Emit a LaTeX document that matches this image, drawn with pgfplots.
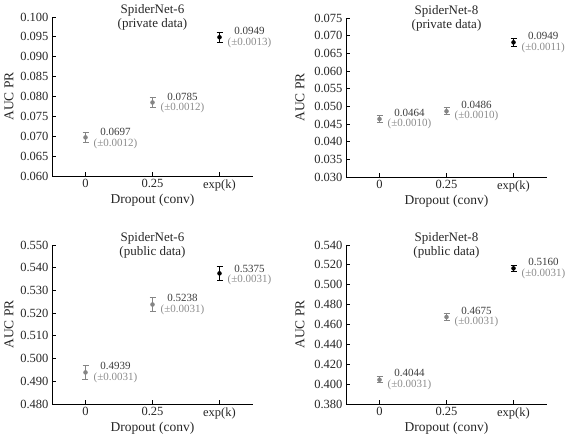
\documentclass[border=0pt]{standalone}
\usepackage{fontspec}
\setmainfont{Liberation Serif}
\usepackage{pgfplots}
\pgfplotsset{compat=1.18}
\definecolor{ptgray}{HTML}{858585}
\definecolor{valc}{HTML}{3C3C3C}
\definecolor{pmc}{HTML}{8C8C8C}
\newcommand{\ann}[4]{\node[anchor=west, inner sep=0pt, align=center, font=\fontsize{11}{10.5}\selectfont, xshift=8pt] at (axis cs:#1,#2) {\textcolor{valc}{#3}\\\textcolor{pmc}{(±#4)}};}
\pgfplotsset{panel/.style={
  scale only axis, width=201pt, height=159pt, anchor=south west,
  xmin=-0.5, xmax=2.5, xtick={0,1,2}, xticklabels={0,0.25,exp(k)},
  axis x line*=bottom, axis y line*=left, tick align=inside,
  major tick length=3.5pt, axis line style={line width=0.9pt},
  every tick/.style={line width=0.9pt, black},
  tick label style={font=\fontsize{12.5}{13}\selectfont, text=black!85},
  /pgf/number format/assume math mode=true,
  yticklabel style={/pgf/number format/.cd, fixed, fixed zerofill, precision=3},
  scaled y ticks=false,
  xlabel={Dropout (conv)}, ylabel={AUC PR},
  label style={font=\fontsize{13.5}{14}\selectfont, text=black!85},
  xlabel style={at={(axis description cs:0.5,-0.151)}, anchor=center},
  ylabel style={at={(axis description cs:-0.214,0.5)}, anchor=center},
  title style={at={(axis description cs:0.5,1)}, anchor=center, yshift=-6pt, align=center, font=\fontsize{13}{14}\selectfont, text=black!85},
  clip=false,
},
gpts/.style={only marks, mark=*, mark size=2pt, ptgray,
  error bars/.cd, y dir=both, y explicit,
  error bar style={line width=1pt},
  error mark options={rotate=90, mark size=3pt, line width=1pt}},
bpts/.style={only marks, mark=*, mark size=2pt, black,
  error bars/.cd, y dir=both, y explicit,
  error bar style={line width=1pt},
  error mark options={rotate=90, mark size=3pt, line width=1pt}},
}
\begin{document}
\begin{tikzpicture}
\useasboundingbox (0,0) rectangle (565pt,435pt);
% top left
\begin{axis}[panel, at={(52pt,259pt)}, ymin=0.06, ymax=0.1, ytick distance=0.005,
  title={SpiderNet-6\\(private data)}]
\addplot[gpts] coordinates {(0,0.0697) +- (0,0.0012) (1,0.0785) +- (0,0.0012)};
\addplot[bpts] coordinates {(2,0.0949) +- (0,0.0013)};
\ann{0}{0.0694}{0.0697}{0.0012}
\ann{1}{0.0784}{0.0785}{0.0012}
\ann{2}{0.0949}{0.0949}{0.0013}
\end{axis}
% top right
\begin{axis}[panel, at={(346pt,258pt)}, ymin=0.03, ymax=0.075, ytick distance=0.005,
  ylabel style={at={(axis description cs:-0.229,0.5)}},
  title={SpiderNet-8\\(private data)}]
\addplot[gpts] coordinates {(0,0.0464) +- (0,0.0010) (1,0.0486) +- (0,0.0010)};
\addplot[bpts] coordinates {(2,0.0681) +- (0,0.0011)};
\ann{0}{0.0464}{0.0464}{0.0010}
\ann{1}{0.0487}{0.0486}{0.0010}
\ann{2}{0.0681}{0.0949}{0.0011}
\end{axis}
% bottom left
\begin{axis}[panel, at={(52pt,31pt)}, ymin=0.48, ymax=0.55, ytick distance=0.01,
  title={SpiderNet-6\\(public data)}]
\addplot[gpts] coordinates {(0,0.4939) +- (0,0.0031) (1,0.5238) +- (0,0.0031)};
\addplot[bpts] coordinates {(2,0.5375) +- (0,0.0031)};
\ann{0}{0.4939}{0.4939}{0.0031}
\ann{1}{0.5238}{0.5238}{0.0031}
\ann{2}{0.5368}{0.5375}{0.0031}
\end{axis}
% bottom right
\begin{axis}[panel, at={(346pt,31pt)}, ymin=0.38, ymax=0.54, ytick distance=0.02,
  ylabel style={at={(axis description cs:-0.229,0.5)}},
  title={SpiderNet-8\\(public data)}]
\addplot[gpts] coordinates {(0,0.4044) +- (0,0.0031) (1,0.4675) +- (0,0.0031)};
\addplot[bpts] coordinates {(2,0.5165) +- (0,0.0031)};
\ann{0}{0.4044}{0.4044}{0.0031}
\ann{1}{0.4675}{0.4675}{0.0031}
\ann{2}{0.5165}{0.5160}{0.0031}
\end{axis}
\end{tikzpicture}
\end{document}
